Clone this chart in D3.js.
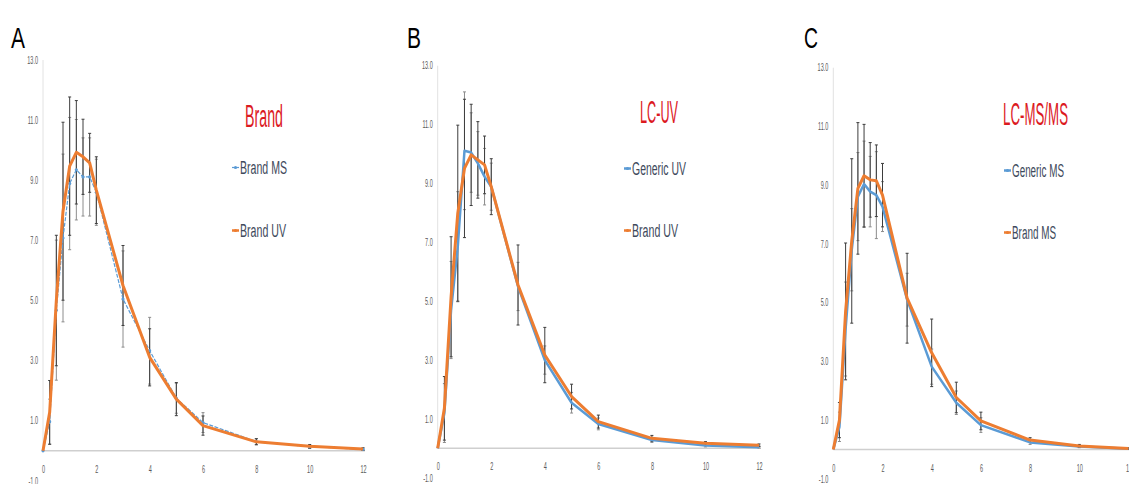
<!DOCTYPE html>
<html>
<head>
<meta charset="utf-8">
<script src="https://cdn.jsdelivr.net/npm/d3@7"></script>
<style>
body { margin: 0; background: #fff; }
text { font-family: "Liberation Sans", Arial, sans-serif; }
</style>
</head>
<body>
<script>
// sampling times (h)
var TIME = [0, 0.25, 0.5, 0.75, 1, 1.25, 1.5, 1.75, 2, 3, 4, 5, 6, 8, 10, 12];

// panel A : Brand
var A_MS    = [0, 0.97, 4.68, 7.08, 8.89, 9.35, 9.11, 9.11, 8.6, 5.05, 3.33, 1.75, 0.94, 0.31, 0.14, 0.05];
var A_MS_SD = [0, 0.75, 2.33, 2.79, 2.2, 1.67, 1.3, 1.3, 1.1, 1.6, 1.11, 0.5, 0.33, 0.1, 0.06, 0.04];
var A_UV    = [0, 1.28, 5.0, 7.97, 9.47, 9.93, 9.78, 9.58, 8.67, 5.5, 3.11, 1.72, 0.84, 0.3, 0.15, 0.06];
var A_UV_SD = [0, 1.06, 2.17, 2.96, 2.3, 1.72, 1.25, 0.98, 1.11, 1.33, 0.95, 0.55, 0.32, 0.1, 0.06, 0.04];

// panel B : LC-UV
var B_GEN    = [0, 1.2, 4.7, 6.85, 10.11, 10.05, 9.68, 9.23, 8.89, 5.5, 3.0, 1.55, 0.83, 0.28, 0.1, 0.04];
var B_GEN_SD = [0, 1.0, 1.65, 1.87, 2.0, 1.35, 1.08, 0.96, 0.8, 0.82, 0.48, 0.35, 0.2, 0.08, 0.05, 0.03];
var B_UV     = [0, 1.36, 5.15, 7.99, 9.51, 9.97, 9.8, 9.63, 8.89, 5.55, 3.17, 1.76, 0.91, 0.34, 0.17, 0.11];
var B_UV_SD  = [0, 1.08, 2.04, 2.99, 2.35, 1.72, 1.3, 0.98, 0.95, 1.36, 0.94, 0.42, 0.22, 0.1, 0.06, 0.04];

// panel C : LC-MS/MS
var C_GEN    = [0, 0.77, 4.1, 6.8, 8.61, 9.04, 8.78, 8.66, 8.27, 5.1, 2.82, 1.59, 0.83, 0.24, 0.1, 0.02];
var C_GEN_SD = [0, 0.5, 1.6, 1.4, 1.5, 1.46, 1.2, 1.48, 0.85, 0.9, 0.6, 0.4, 0.25, 0.07, 0.04, 0.02];
var C_MS     = [0, 1.0, 4.7, 7.1, 8.89, 9.32, 9.18, 9.15, 8.66, 5.15, 3.29, 1.77, 0.97, 0.32, 0.12, 0.03];
var C_MS_SD  = [0, 0.6, 2.33, 2.8, 2.24, 1.75, 1.27, 1.22, 1.08, 1.53, 1.15, 0.52, 0.3, 0.08, 0.05, 0.03];

var Y_TICKS = [-1, 1, 3, 5, 7, 9, 11, 13];
var X_TICKS = [0, 2, 4, 6, 8, 10, 12];
var LETTERS = ["A", "B", "C"];
var TITLES = ["Brand", "LC-UV", "LC-MS/MS"];
var NAMES = [["Brand MS", "Brand UV"], ["Generic UV", "Brand UV"], ["Generic MS", "Brand MS"]];

var BLUE = "#5b9bd5";
var ORANGE = "#ed7d31";
var RED = "#dc1a1f";
var LEG_TXT = "#3e4a5c";
var TICK_TXT = "#595959";
var SQUASH = 0.55;

var width = 1129,
	height = 484;

// layout of the three panels (pixel positions only)
var layout = [
	{ x0: 43, x1: 363, yTop: 60, yBot: 480.9, lx: 240, title: [264, 127, 38], leg: [174, 237], legW: [47, 46], letter: 11 },
	{ x0: 437.7, x1: 759, yTop: 65.7, yBot: 477.8, lx: 632, title: [659, 123, 38], leg: [175, 237], legW: [54, 46], letter: 407 },
	{ x0: 833.3, x1: 1128.5, yTop: 67.7, yBot: 478.8, lx: 1012, title: [1035.5, 125, 65], leg: [177, 239], legW: [52, 44], letter: 804 }
];

var seriesData = [
	[[A_MS, A_MS_SD, BLUE, 1.2], [A_UV, A_UV_SD, ORANGE, 3]],
	[[B_GEN, B_GEN_SD, BLUE, 2.5], [B_UV, B_UV_SD, ORANGE, 3]],
	[[C_GEN, C_GEN_SD, BLUE, 2.5], [C_MS, C_MS_SD, ORANGE, 3]]
];

var svg = d3.select("body").append("svg")
	.attr("width", width)
	.attr("height", height);

layout.forEach(function(p, k) { drawPanel(p, k); });

function drawPanel(p, k) {
	var x = d3.scaleLinear().domain([0, 12]).range([p.x0, p.x1]);
	var y = d3.scaleLinear().domain([-1, 13]).range([p.yBot, p.yTop]);
	var g = svg.append("g");

	// axis lines
	g.append("line")
		.attr("x1", x(0)).attr("x2", x(0))
		.attr("y1", y(13)).attr("y2", y(0))
		.attr("stroke", "#e2e2e2").attr("stroke-width", 1);
	g.append("line")
		.attr("x1", x(0)).attr("x2", x(12) + 2)
		.attr("y1", y(0)).attr("y2", y(0))
		.attr("stroke", "#cfcfcf").attr("stroke-width", 1.5);

	// tick labels
	var ya = g.append("g")
		.call(d3.axisLeft(y).tickValues(Y_TICKS).tickSize(0).tickPadding(0)
			.tickFormat(function(d) { return d.toFixed(1); }))
		.attr("transform", "translate(" + (x(0) - 5) + ",0)");
	var xa = g.append("g")
		.call(d3.axisBottom(x).tickValues(X_TICKS).tickSize(0).tickPadding(15))
		.attr("transform", "translate(0," + y(0) + ")");
	[ya, xa].forEach(function(a) {
		a.select(".domain").remove();
		a.selectAll("text")
			.attr("fill", TICK_TXT)
			.attr("font-size", 10)
			.attr("font-family", "Liberation Sans, Arial, sans-serif")
			.attr("transform", "scale(" + SQUASH + ",1)");
	});

	var line = d3.line()
		.x(function(d, i) { return x(TIME[i]); })
		.y(function(d) { return y(d); });

	seriesData[k].forEach(function(s, j) {
		var vals = s[0], sd = s[1];
		var bars = g.append("g")
			.attr("stroke", j === 0 ? "#8c8c8c" : "#3d3d3d")
			.attr("stroke-width", 1);
		var idx = d3.range(TIME.length).filter(function(i) { return sd[i] > 0; });
		bars.selectAll("line.bar").data(idx).enter().append("line")
			.attr("x1", function(i) { return x(TIME[i]); })
			.attr("x2", function(i) { return x(TIME[i]); })
			.attr("y1", function(i) { return y(vals[i] - sd[i]); })
			.attr("y2", function(i) { return y(vals[i] + sd[i]); });
		[-1, 1].forEach(function(sign) {
			bars.selectAll("line.cap" + sign).data(idx).enter().append("line")
				.attr("x1", function(i) { return x(TIME[i]) - 1.5; })
				.attr("x2", function(i) { return x(TIME[i]) + 1.5; })
				.attr("y1", function(i) { return y(vals[i] + sign * sd[i]); })
				.attr("y2", function(i) { return y(vals[i] + sign * sd[i]); });
		});
	});

	seriesData[k].forEach(function(s, j) {
		var path = g.append("path")
			.datum(s[0])
			.attr("fill", "none")
			.attr("stroke", s[2])
			.attr("stroke-width", s[3])
			.attr("stroke-linejoin", "round")
			.attr("d", line);
		if (k === 0 && j === 0) {
			path.attr("stroke-dasharray", "4,1.5");
			g.selectAll("circle.mk").data(s[0]).enter().append("circle")
				.attr("cx", function(d, i) { return x(TIME[i]); })
				.attr("cy", function(d) { return y(d); })
				.attr("r", 1.6)
				.attr("fill", BLUE);
		}
	});

	// panel letter
	svg.append("text")
		.attr("x", p.letter).attr("y", 48)
		.attr("font-size", 29)
		.attr("fill", "#000")
		.attr("textLength", 14)
		.attr("lengthAdjust", "spacingAndGlyphs")
		.text(LETTERS[k]);

	// title
	svg.append("text")
		.attr("x", p.title[0] - p.title[2] / 2).attr("y", p.title[1])
		.attr("font-size", 31)
		.attr("fill", RED)
		.attr("textLength", p.title[2])
		.attr("lengthAdjust", "spacingAndGlyphs")
		.text(TITLES[k]);

	// legend
	NAMES[k].forEach(function(name, j) {
		var by = p.leg[j];
		var s = seriesData[k][j];
		svg.append("line")
			.attr("x1", p.lx - 8).attr("x2", p.lx - 1)
			.attr("y1", by - 6.5).attr("y2", by - 6.5)
			.attr("stroke", s[2])
			.attr("stroke-width", (k === 0 && j === 0) ? 1.2 : 2.5);
		svg.append("circle")
			.attr("cx", p.lx - 4.5).attr("cy", by - 6.5)
			.attr("r", 1.6).attr("fill", s[2]);
		svg.append("text")
			.attr("x", p.lx).attr("y", by)
			.attr("font-size", 18)
			.attr("fill", LEG_TXT)
			.attr("textLength", p.legW[j])
			.attr("lengthAdjust", "spacingAndGlyphs")
			.text(name);
	});
}
</script>
</body>
</html>
